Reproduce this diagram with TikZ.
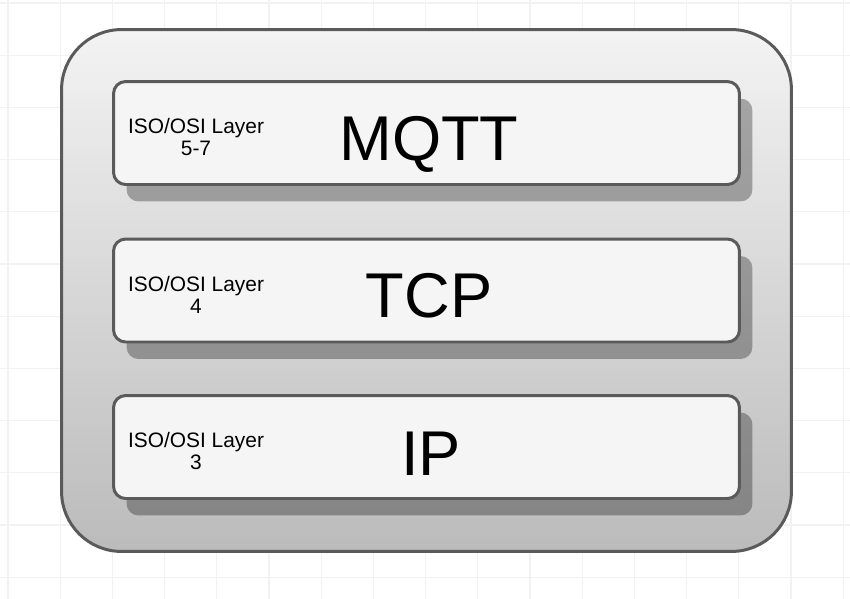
\documentclass[tikz,border=0pt]{standalone}
\usepackage{fontspec}
\setmainfont{Liberation Sans}
\usetikzlibrary{positioning, shadows}

\definecolor{gridgray}{HTML}{F2F2F2}
\definecolor{edgegray}{HTML}{5A5A5A}
\definecolor{stacktop}{HTML}{F3F3F3}
\definecolor{stackbottom}{HTML}{BBBBBB}
\definecolor{layerfill}{HTML}{F5F5F5}

\begin{document}
\begin{tikzpicture}[
        x=0.02cm, y=-0.02cm,
        % Styles
        gridline/.style={% Faint background grid
            draw=gridgray,
            line width=0.6pt,
            },
        stack/.style={% For the outer box
            rectangle,
            rounded corners=1.2cm,
            draw=edgegray,
            line width=1.7pt,
            top color=stacktop,
            bottom color=stackbottom,
            minimum width=14.6cm,
            minimum height=10.44cm,
            inner sep=0pt,
            },
        layer/.style={% For one protocol layer
            rectangle,
            rounded corners=0.24cm,
            draw=edgegray,
            line width=1.7pt,
            fill=layerfill,
            minimum width=12.52cm,
            minimum height=2.06cm,
            inner sep=0pt,
            drop shadow={shadow xshift=0.26cm, shadow yshift=-0.34cm, opacity=0.3, fill=black},
            },
        osi/.style={% Small ISO/OSI caption
            font=\fontsize{11.9}{12.4}\selectfont,
            align=center,
            inner sep=0pt,
            },
        proto/.style={% Protocol name
            font=\fontsize{36}{40}\selectfont,
            inner sep=0pt,
            anchor=base,
            },
        ]

    \useasboundingbox (0,0) rectangle (850,599);

    % Grid
        \foreach \gx in {0,...,16}
            \draw [gridline] (8+52.2*\gx,0) -- (8+52.2*\gx,599);
        \foreach \gy in {0,...,11}
            \draw [gridline] (0,3+52.2*\gy) -- (850,3+52.2*\gy);

    % Boxes
        \node [stack] (stack) at (426.5,290.5) {};
        \node [layer] (mqtt) at (426.5,133) {};
        \node [layer] (tcp) at (426.5,290.5) {};
        \node [layer] (ip) at (426.5,447) {};

    % Captions
        \node [osi] (mqttosi) at (196,137) {ISO/OSI Layer\\5-7};
        \node [osi] (tcposi) at (196,295) {ISO/OSI Layer\\4};
        \node [osi] (iposi) at (196,451) {ISO/OSI Layer\\3};

    % Protocol names
        \node [proto] (mqttname) at (429,160) {MQTT};
        \node [proto] (tcpname) at (429,317) {TCP};
        \node [proto] (ipname) at (431,475) {IP};

\end{tikzpicture}
\end{document}
